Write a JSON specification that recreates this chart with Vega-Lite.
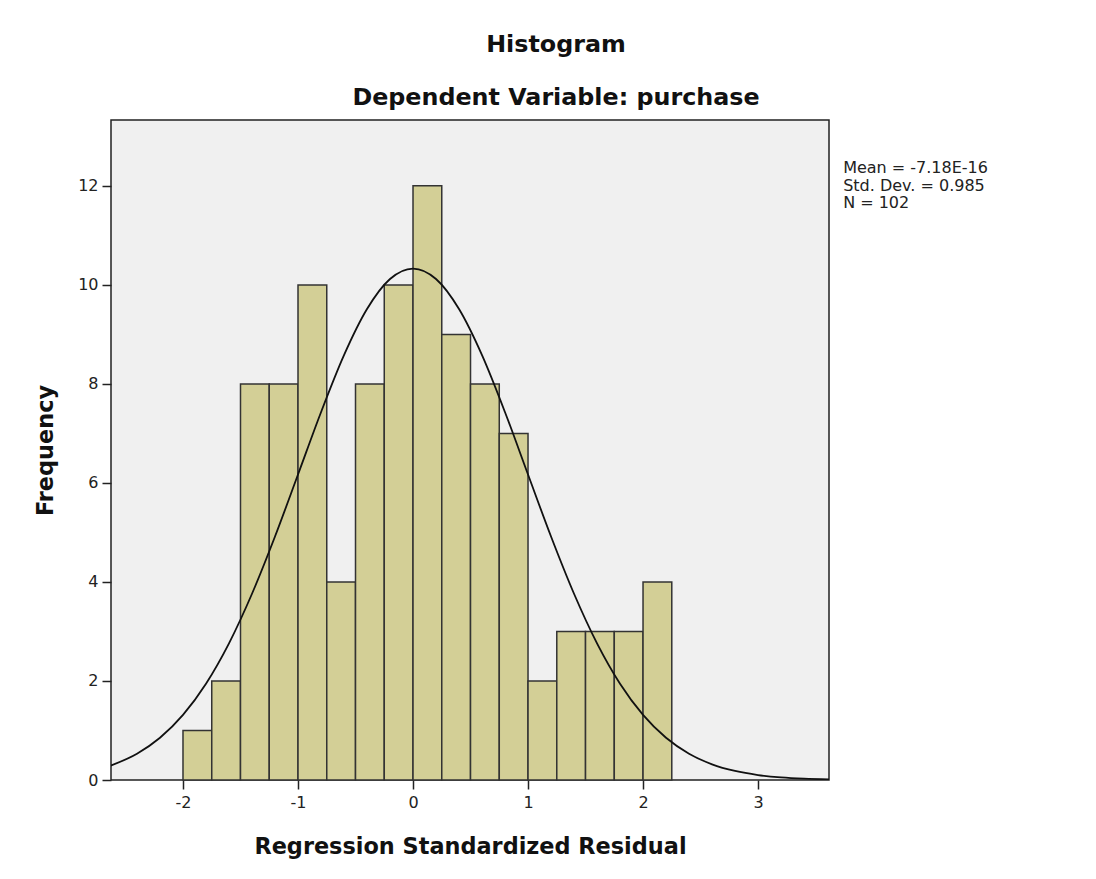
{
  "$schema": "https://vega.github.io/schema/vega-lite/v6.json",
  "autosize": "none",
  "width": 718,
  "height": 660,
  "padding": {"left": 111, "top": 120, "right": 267, "bottom": 99},
  "background": "#ffffff",
  "config": {
    "font": "DejaVu Sans",
    "view": {"fill": "#f0f0f0", "stroke": "#222222", "strokeWidth": 1.5},
    "axis": {"grid": false, "domain": false, "tickColor": "#222222", "tickWidth": 1.5, "tickSize": 9, "labelFont": "DejaVu Sans", "labelFontSize": 16, "labelColor": "#222222", "titleFont": "DejaVu Sans", "titleFontSize": 22.4, "titleFontWeight": "bold", "titleColor": "#111111"}
  },
  "title": {
    "text": "Histogram",
    "subtitle": "Dependent Variable: purchase",
    "font": "DejaVu Sans",
    "subtitleFont": "DejaVu Sans",
    "fontSize": 23.8,
    "fontWeight": "bold",
    "subtitleFontSize": 23.8,
    "subtitleFontWeight": "bold",
    "subtitleColor": "#111111",
    "color": "#111111",
    "subtitlePadding": 29,
    "anchor": "middle",
    "frame": "group",
    "dx": 86,
    "offset": 10
  },
  "datasets": {
    "bins": [
      {"lo": -2.0, "hi": -1.75, "count": 1},
      {"lo": -1.75, "hi": -1.5, "count": 2},
      {"lo": -1.5, "hi": -1.25, "count": 8},
      {"lo": -1.25, "hi": -1.0, "count": 8},
      {"lo": -1.0, "hi": -0.75, "count": 10},
      {"lo": -0.75, "hi": -0.5, "count": 4},
      {"lo": -0.5, "hi": -0.25, "count": 8},
      {"lo": -0.25, "hi": 0.0, "count": 10},
      {"lo": 0.0, "hi": 0.25, "count": 12},
      {"lo": 0.25, "hi": 0.5, "count": 9},
      {"lo": 0.5, "hi": 0.75, "count": 8},
      {"lo": 0.75, "hi": 1.0, "count": 7},
      {"lo": 1.0, "hi": 1.25, "count": 2},
      {"lo": 1.25, "hi": 1.5, "count": 3},
      {"lo": 1.5, "hi": 1.75, "count": 3},
      {"lo": 1.75, "hi": 2.0, "count": 3},
      {"lo": 2.0, "hi": 2.25, "count": 4}
    ],
    "curve": [
      {"x": -2.63, "y": 0.29},
      {"x": -2.4, "y": 0.531},
      {"x": -2.2, "y": 0.853},
      {"x": -2.0, "y": 1.315},
      {"x": -1.8, "y": 1.945},
      {"x": -1.6, "y": 2.761},
      {"x": -1.4, "y": 3.762},
      {"x": -1.2, "y": 4.918},
      {"x": -1.0, "y": 6.170},
      {"x": -0.8, "y": 7.428},
      {"x": -0.6, "y": 8.581},
      {"x": -0.4, "y": 9.512},
      {"x": -0.2, "y": 10.119},
      {"x": 0.0, "y": 10.33},
      {"x": 0.2, "y": 10.119},
      {"x": 0.4, "y": 9.512},
      {"x": 0.6, "y": 8.581},
      {"x": 0.8, "y": 7.428},
      {"x": 1.0, "y": 6.170},
      {"x": 1.2, "y": 4.918},
      {"x": 1.4, "y": 3.762},
      {"x": 1.6, "y": 2.761},
      {"x": 1.8, "y": 1.945},
      {"x": 2.0, "y": 1.315},
      {"x": 2.2, "y": 0.853},
      {"x": 2.4, "y": 0.531},
      {"x": 2.6, "y": 0.317},
      {"x": 2.8, "y": 0.182},
      {"x": 3.0, "y": 0.100},
      {"x": 3.2, "y": 0.053},
      {"x": 3.4, "y": 0.027},
      {"x": 3.62, "y": 0.013}
    ],
    "stats": [
      {"label": "Mean = -7.18E-16\nStd. Dev. = 0.985\nN = 102"}
    ]
  },
  "layer": [
    {
      "data": {"name": "bins"},
      "mark": {"type": "rect", "fill": "#d3cf96", "stroke": "#333333", "strokeWidth": 1.5},
      "encoding": {
        "x": {"field": "lo", "type": "quantitative", "scale": {"domain": [-2.626, 3.617], "nice": false, "zero": false},
          "axis": {"values": [-2, -1, 0, 1, 2, 3], "labelExpr": "'' + datum.value", "title": "Regression Standardized Residual", "labelPadding": 5, "titlePadding": 25}},
        "x2": {"field": "hi"},
        "y": {"field": "count", "type": "quantitative", "scale": {"domain": [0, 13.33], "nice": false},
          "axis": {"values": [0, 2, 4, 6, 8, 10, 12], "title": "Frequency", "labelPadding": 4, "titlePadding": 20}},
        "y2": {"datum": 0}
      }
    },
    {
      "data": {"name": "curve"},
      "mark": {"type": "line", "color": "#111111", "strokeWidth": 1.8, "interpolate": "monotone", "clip": true},
      "encoding": {
        "x": {"field": "x", "type": "quantitative"},
        "y": {"field": "y", "type": "quantitative"}
      }
    },
    {
      "data": {"name": "stats"},
      "mark": {"type": "text", "align": "left", "baseline": "middle", "fontSize": 16, "color": "#222222", "lineHeight": 17.5, "lineBreak": "\n"},
      "encoding": {
        "text": {"field": "label", "type": "nominal"},
        "x": {"datum": 3.74, "type": "quantitative"},
        "y": {"datum": 12.36, "type": "quantitative"}
      }
    }
  ]
}
